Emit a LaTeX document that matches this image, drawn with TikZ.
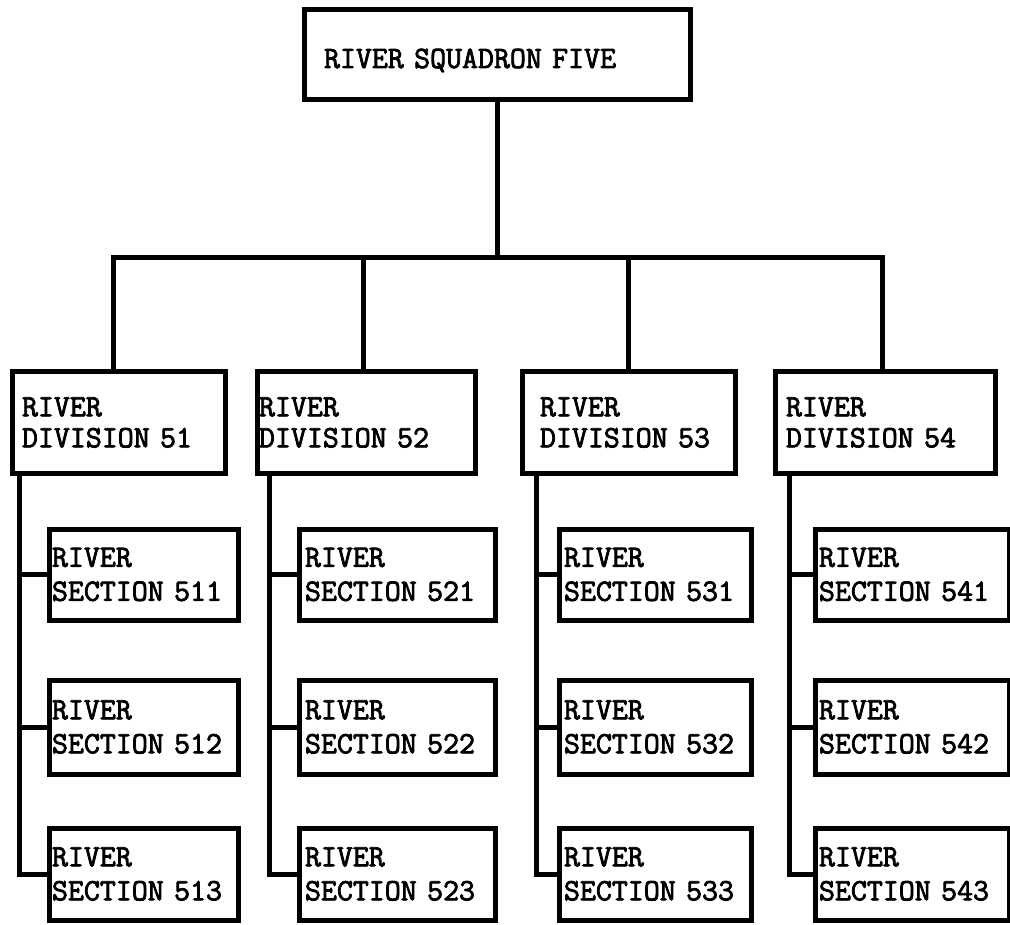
\documentclass[tikz,border=0pt]{standalone}
\usepackage{fontspec}
\newfontfamily\typew{Latin Modern Mono}[FakeBold=2.5]
\begin{document}
\begin{tikzpicture}[x=1pt,y=-1pt,
  box/.style={draw, line width=5pt, rectangle, inner ysep=0pt, align=left,
    font=\fontsize{31}{31}\selectfont\typew},
  secbox/.style={box, font=\fontsize{31}{34}\selectfont\typew},
  link/.style={line width=5pt, line cap=rect}]
\useasboundingbox (0,0) rectangle (1010,925);
\fill[white] (0,0) rectangle (1010,925);

% top
\node[box, text width=346pt, inner xsep=20pt, minimum height=90pt] (top) at (497,55) {\raisebox{-13pt}[0pt][0pt]{RIVER SQUADRON FIVE}};

% divisions
\node[box, text width=193pt, inner xsep=10pt, minimum height=101pt] (d51) at (118.5,422.5) {RIVER\\DIVISION 51};
\node[box, text width=214pt, inner xsep=2pt, minimum height=101pt] (d52) at (366,422.5) {RIVER\\DIVISION 52};
\node[box, text width=177pt, inner xsep=18pt, minimum height=101pt] (d53) at (628.5,422.5) {RIVER\\DIVISION 53};
\node[box, text width=198pt, inner xsep=11pt, minimum height=101pt] (d54) at (885,422.5) {RIVER\\DIVISION 54};

% sections 51x
\node[secbox, text width=183pt, inner xsep=3pt, minimum height=91pt] (s511) at (143.5,574.5) {RIVER\\SECTION 511};
\node[secbox, text width=183pt, inner xsep=3pt, minimum height=94pt] (s512) at (143.5,727) {RIVER\\SECTION 512};
\node[secbox, text width=183pt, inner xsep=3pt, minimum height=92pt] (s513) at (143.5,874) {RIVER\\SECTION 513};
% sections 52x
\node[secbox, text width=184pt, inner xsep=6pt, minimum height=91pt] (s521) at (397,574.5) {RIVER\\SECTION 521};
\node[secbox, text width=184pt, inner xsep=6pt, minimum height=94pt] (s522) at (397,727) {RIVER\\SECTION 522};
\node[secbox, text width=184pt, inner xsep=6pt, minimum height=92pt] (s523) at (397,874) {RIVER\\SECTION 523};
% sections 53x
\node[secbox, text width=182pt, inner xsep=5pt, minimum height=91pt] (s531) at (655,574.5) {RIVER\\SECTION 531};
\node[secbox, text width=182pt, inner xsep=5pt, minimum height=94pt] (s532) at (655,727) {RIVER\\SECTION 532};
\node[secbox, text width=182pt, inner xsep=5pt, minimum height=92pt] (s533) at (655,874) {RIVER\\SECTION 533};
% sections 54x
\node[secbox, text width=186pt, inner xsep=4pt, minimum height=91pt] (s541) at (912,574.5) {RIVER\\SECTION 541};
\node[secbox, text width=186pt, inner xsep=4pt, minimum height=94pt] (s542) at (912,727) {RIVER\\SECTION 542};
\node[secbox, text width=186pt, inner xsep=4pt, minimum height=92pt] (s543) at (912,874) {RIVER\\SECTION 543};

% bus
\coordinate (bus) at (497,258);
\draw[link] (top.south) -- (top.south |- bus);
\draw[link] ([xshift=-5pt]d51.north) -- ([xshift=-5pt]d51.north |- bus) -- ([xshift=-3pt]d54.north |- bus) -- ([xshift=-3pt]d54.north);
\draw[link] ([xshift=-3pt]d52.north) -- ([xshift=-3pt]d52.north |- bus);
\draw[link] (d53.north) -- (d53.north |- bus);

% spines
\coordinate (sp51) at ([xshift=10pt]d51.south west);
\coordinate (sp52) at ([xshift=15pt]d52.south west);
\coordinate (sp53) at ([xshift=17pt]d53.south west);
\coordinate (sp54) at ([xshift=17pt]d54.south west);
\foreach \d in {51,52,53,54}{
  \draw[link] (sp\d) |- (s\d3.west);
  \draw[link] (sp\d |- s\d1.west) -- (s\d1.west);
  \draw[link] (sp\d |- s\d2.west) -- (s\d2.west);
}
\end{tikzpicture}
\end{document}
